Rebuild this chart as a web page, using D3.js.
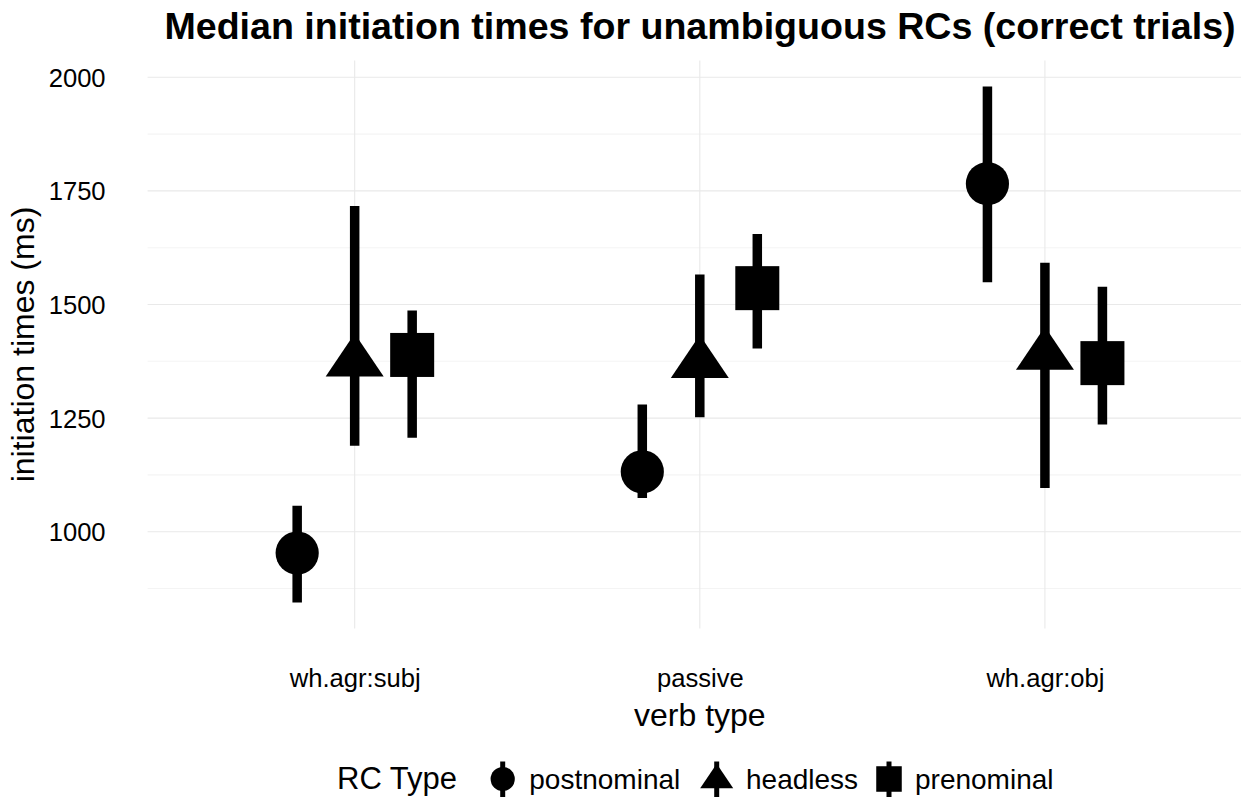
<!DOCTYPE html>
<html>
<head>
<meta charset="utf-8">
<script src="https://cdn.jsdelivr.net/npm/d3@7"></script>
<style>
  html, body { margin: 0; padding: 0; background: #fff; }
  svg text { font-family: "Liberation Sans", Arial, Helvetica, sans-serif; fill: #000; }
</style>
</head>
<body>
<svg id="chart" width="1241" height="797"></svg>
<script>
// categories
const verbTypes = ['wh.agr:subj', 'passive', 'wh.agr:obj'];
const rcTypes = ['postnominal', 'headless', 'prenominal'];

// medians and interval ends, one value per verb type
const postnominalMedian = [953, 1132, 1766];
const postnominalLow = [844, 1074, 1549];
const postnominalHigh = [1057, 1280, 1980];

const headlessMedian = [1373, 1370, 1388];
const headlessLow = [1189, 1252, 1096];
const headlessHigh = [1717, 1566, 1592];

const prenominalMedian = [1389, 1536, 1371];
const prenominalLow = [1207, 1403, 1236];
const prenominalHigh = [1487, 1655, 1539];

const yMajorTicks = [1000, 1250, 1500, 1750, 2000];
const yMinorTicks = [875, 1125, 1375, 1625, 1875];

const seriesTable = [
  {rc: 'postnominal', median: postnominalMedian, low: postnominalLow, high: postnominalHigh},
  {rc: 'headless', median: headlessMedian, low: headlessLow, high: headlessHigh},
  {rc: 'prenominal', median: prenominalMedian, low: prenominalLow, high: prenominalHigh}
];

const rows = [];
seriesTable.forEach((s) => {
  verbTypes.forEach((v, i) => {
    rows.push({verb: v, rc: s.rc, median: s.median[i], low: s.low[i], high: s.high[i]});
  });
});

const panel = {left: 147.6, right: 1252, top: 60.6, bottom: 628.4};

const svg = d3.select('#chart');

// y scale with the usual 5% padding on the data range
const lo = d3.min(rows, d => d.low);
const hi = d3.max(rows, d => d.high);
const pad = (hi - lo) * 0.05;
const scaleY = d3.scaleLinear()
  .domain([lo - pad, hi + pad])
  .range([panel.bottom, panel.top]);

const scaleX = d3.scalePoint()
  .domain(verbTypes)
  .range([panel.left, panel.right])
  .padding(0.6);

const dodge = d3.scalePoint()
  .domain(rcTypes)
  .range([-57.5, 57.5]);

// grid
const grid = svg.append('g').attr('class', 'grid');
grid.selectAll('line.minor')
  .data(yMinorTicks)
  .join('line')
  .attr('class', 'minor')
  .attr('x1', panel.left).attr('x2', 1241)
  .attr('y1', d => scaleY(d)).attr('y2', d => scaleY(d))
  .style('stroke', '#f4f4f4')
  .style('stroke-width', 1.1);
grid.selectAll('line.major')
  .data(yMajorTicks)
  .join('line')
  .attr('class', 'major')
  .attr('x1', panel.left).attr('x2', 1241)
  .attr('y1', d => scaleY(d)).attr('y2', d => scaleY(d))
  .style('stroke', '#e9e9e9')
  .style('stroke-width', 1.1);
grid.selectAll('line.vert')
  .data(verbTypes)
  .join('line')
  .attr('class', 'vert')
  .attr('x1', d => scaleX(d)).attr('x2', d => scaleX(d))
  .attr('y1', panel.top).attr('y2', panel.bottom)
  .style('stroke', '#e9e9e9')
  .style('stroke-width', 1.1);

// axes (only labels, no domain or tick marks)
const yAxis = svg.append('g')
  .attr('transform', `translate(${panel.left}, 0)`)
  .call(d3.axisLeft(scaleY).tickValues(yMajorTicks).tickSize(0).tickPadding(42).tickFormat(d3.format('d')));
yAxis.select('.domain').remove();
yAxis.selectAll('text')
  .style('font-size', '25.6px')
  .style('fill', '#000')
  .attr('dy', '0.35em');

const xAxis = svg.append('g')
  .attr('transform', `translate(0, ${panel.bottom})`)
  .call(d3.axisBottom(scaleX).tickSize(0).tickPadding(40));
xAxis.select('.domain').remove();
xAxis.selectAll('text')
  .style('font-size', '25.6px')
  .style('fill', '#000')
  .attr('dy', '0.71em');

// point shapes
const triW = 58, triH = 43;
function drawShape(g, rc, x, y, size) {
  const k = size || 1;
  if (rc == 'postnominal') {
    g.append('circle').attr('cx', x).attr('cy', y).attr('r', 21.6 * k).style('fill', '#000');
  } else if (rc == 'headless') {
    const w = triW * k, h = triH * k;
    g.append('path')
      .attr('d', `M${x},${y - 2 * h / 3}L${x + w / 2},${y + h / 3}L${x - w / 2},${y + h / 3}Z`)
      .style('fill', '#000');
  } else {
    const s = 44 * k;
    g.append('rect').attr('x', x - s / 2).attr('y', y - s / 2).attr('width', s).attr('height', s).style('fill', '#000');
  }
}

const marks = svg.append('g').attr('class', 'marks');
rows.forEach((d) => {
  const cx = scaleX(d.verb) + dodge(d.rc);
  marks.append('line')
    .attr('x1', cx).attr('x2', cx)
    .attr('y1', scaleY(d.low)).attr('y2', scaleY(d.high))
    .style('stroke', '#000')
    .style('stroke-width', 9.5);
  drawShape(marks, d.rc, cx, scaleY(d.median));
});

// titles
svg.append('text')
  .attr('x', 700).attr('y', 39)
  .attr('text-anchor', 'middle')
  .style('font-size', '37.6px')
  .style('font-weight', 'bold')
  .text('Median initiation times for unambiguous RCs (correct trials)');

svg.append('text')
  .attr('x', scaleX('passive')).attr('y', 726)
  .attr('text-anchor', 'middle')
  .style('font-size', '32px')
  .text('verb type');

svg.append('text')
  .attr('transform', `translate(34, ${(panel.top + panel.bottom) / 2}) rotate(-90)`)
  .attr('text-anchor', 'middle')
  .style('font-size', '32px')
  .text('initiation times (ms)');

// legend
const legend = svg.append('g').attr('class', 'legend');
legend.append('text')
  .attr('x', 337).attr('y', 789)
  .style('font-size', '31px')
  .text('RC Type');

const keyX = [502.7, 716.7, 889];
const labelX = [529.3, 746, 915];
const keyY = 779;
rcTypes.forEach((rc, i) => {
  legend.append('line')
    .attr('x1', keyX[i]).attr('x2', keyX[i])
    .attr('y1', 761.5).attr('y2', 800)
    .style('stroke', '#000')
    .style('stroke-width', 5);
  drawShape(legend, rc, keyX[i], rc == 'headless' ? keyY + 1 : keyY, rc == 'postnominal' ? 0.56 : (rc == 'headless' ? 0.57 : 0.58));
  legend.append('text')
    .attr('x', labelX[i]).attr('y', 789)
    .style('font-size', '28px')
    .text(rc);
});
</script>
</body>
</html>
